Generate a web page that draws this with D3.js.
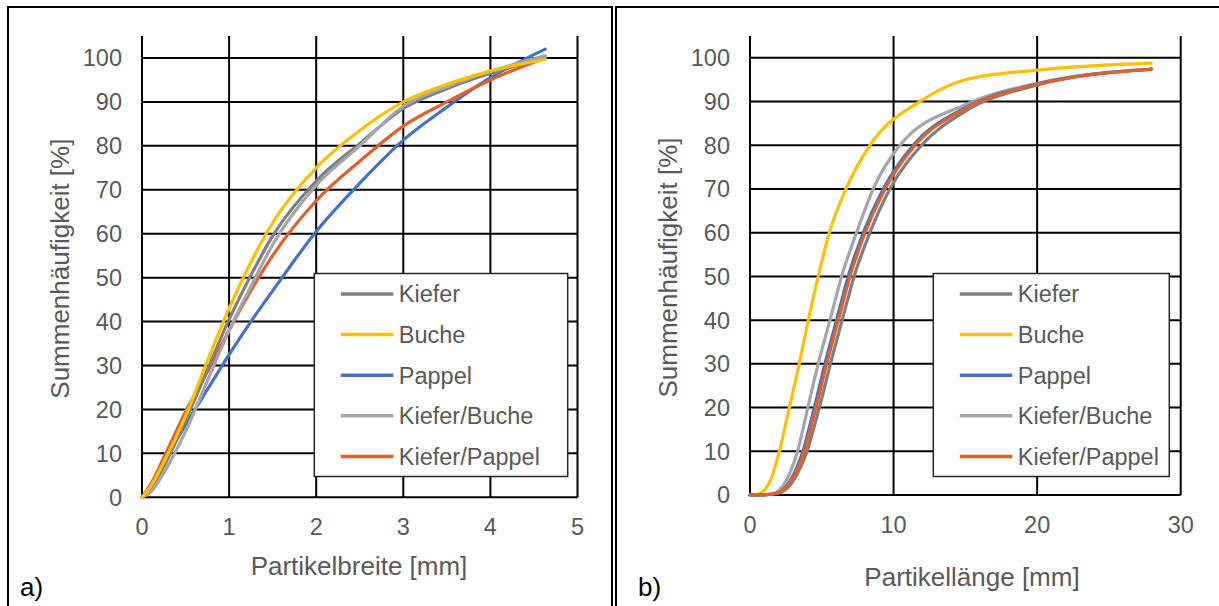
<!DOCTYPE html>
<html><head><meta charset="utf-8">
<script src="https://cdn.jsdelivr.net/npm/d3@7"></script>
<style>
html,body{margin:0;padding:0;background:#fff;}
svg{display:block;font-family:"Liberation Sans",Arial,sans-serif;}
</style></head>
<body>
<svg id="c" width="1219" height="606"></svg>
<script>
// ---- data ----
const seriesNames = ["Kiefer","Buche","Pappel","Kiefer/Buche","Kiefer/Pappel"];
const seriesColors = ["#7f7f7f","#ffc000","#4472c4","#a5a5ad","#e4602a"];
const yTicks = [0,10,20,30,40,50,60,70,80,90,100];

// Panel a) Partikelbreite
const xTicksA = [0,1,2,3,4,5];
const breiteX = [0,0.1,0.25,0.5,0.75,1,1.25,1.5,2,2.5,3,3.5,4,4.63];
const breiteKiefer      = [0,2,7,17.5,29,40.5,50.5,59.5,72,80.5,88.5,93,96.5,100];
const breiteBuche       = [0,2.5,8,18.5,31,43,53.5,62.5,75,83.5,90,94,97,99.7];
const breitePappel      = [0,2.5,8,16.5,24.5,32.5,40,47,60.5,71.5,81.3,88.8,95.5,102];
const breiteKieferBuche = [0,1.2,5.5,15,26.5,38,48,57.5,71,80,89,93.5,97,100.5];
const breiteKieferPappel= [0,3,9,19.5,28.5,38,47,55,67.5,76.5,84.5,90,95,100];

// Panel b) Partikellänge
const xTicksB = [0,10,20,30];
const laengeKieferX = [0,1,2,2.5,3,3.5,4,4.4,4.87,5.68,6.5,7.3,8.35,9.74,11.95,15,20,27.95];
const laengeKieferY = [0,0.05,0.4,1.3,3.2,6.2,10.3,14.8,20.5,31,41,50.5,60,70,80,87.8,93.8,97.4];
const laengeBucheX = [0,0.5,1,1.5,2.04,2.74,3.43,4.06,4.75,5.52,6.68,8.35,11.83,15,20,27.95];
const laengeBucheY = [0,0.15,1.1,3.9,10,20,30,40,50,60,70,80,90,95,97.2,98.8];
const laengePappelX = [0,0.93,1.86,2.32,2.78,3.25,3.71,4.08,4.52,5.22,6.03,6.84,7.89,9.28,11.37,15,20,27.95];
const laengePappelY = [0,0.05,0.4,1.3,3.2,6.2,10.3,14.8,20.5,30,40,50,60,70,80,88.6,94,97.4];
const laengeKieferBucheX = [0,0.83,1.67,2.09,2.5,2.92,3.34,3.67,4.06,4.75,5.57,6.38,7.42,8.58,10.44,15,20,27.95];
const laengeKieferBucheY = [0,0.05,0.4,1.3,3.2,6.2,10.3,14.8,20.5,30,40,50,60,70,80,89.3,94.2,97.5];
const laengeKieferPappelX = [0,0.95,1.91,2.38,2.86,3.34,3.81,4.19,4.64,5.34,6.15,6.96,8.01,9.4,11.5,15,20,27.95];
const laengeKieferPappelY = [0,0.05,0.4,1.3,3.2,6.2,10.3,14.8,20.5,30,40,50,60,70,80,88.4,93.9,97.4];

const zipXY = (xs, ys) => xs.map((x,i)=>[x, ys[i]]);
const panelA = {
  xDomain:[0,5], xTicks:xTicksA, xTitle:"Partikelbreite [mm]", tag:"a)",
  series:[zipXY(breiteX,breiteKiefer), zipXY(breiteX,breiteBuche), zipXY(breiteX,breitePappel),
          zipXY(breiteX,breiteKieferBuche), zipXY(breiteX,breiteKieferPappel)]
};
const panelB = {
  xDomain:[0,30], xTicks:xTicksB, xTitle:"Partikellänge [mm]", tag:"b)",
  series:[zipXY(laengeKieferX,laengeKieferY), zipXY(laengeBucheX,laengeBucheY), zipXY(laengePappelX,laengePappelY),
          zipXY(laengeKieferBucheX,laengeKieferBucheY), zipXY(laengeKieferPappelX,laengeKieferPappelY)]
};

const svg = d3.select("#c");
const TXT = "#595959";

// frame (table cell borders)
const frame = svg.append("g").attr("fill","none").attr("stroke","#000").attr("stroke-width",2);
frame.append("path").attr("d","M8,620 V7 H612 V620");
frame.append("path").attr("d","M616,620 V7 H1230");

function drawPanel(p, L){
  const x = d3.scaleLinear().domain(p.xDomain).range([L.x0, L.x1]);
  const y = d3.scaleLinear().domain([0,105]).range([L.y0, L.yTop]);
  const g = svg.append("g");

  g.append("g").selectAll("line").data(p.xTicks).join("line")
    .attr("x1",d=>x(d)).attr("x2",d=>x(d)).attr("y1",y(0)).attr("y2",y(105))
    .attr("stroke","#000").attr("stroke-width",2);
  g.append("g").selectAll("line").data(yTicks).join("line")
    .attr("x1",x(p.xDomain[0])).attr("x2",x(p.xDomain[1])).attr("y1",d=>y(d)).attr("y2",d=>y(d))
    .attr("stroke","#000").attr("stroke-width",2);

  g.append("g").selectAll("text").data(yTicks).join("text")
    .attr("x",x(p.xDomain[0])-20).attr("y",d=>y(d)).attr("dy","0.36em")
    .attr("text-anchor","end").attr("fill",TXT).attr("font-size",23.5).text(d=>d);
  g.append("g").selectAll("text").data(p.xTicks).join("text")
    .attr("x",d=>x(d)).attr("y",y(0)+L.xtDy)
    .attr("text-anchor","middle").attr("fill",TXT).attr("font-size",23.5).text(d=>d);

  g.append("text").attr("transform",`translate(${L.ytX},${(L.y0+L.yTop)/2+2}) rotate(-90)`)
    .attr("text-anchor","middle").attr("dy","0.36em").attr("fill",TXT).attr("font-size",26)
    .text("Summenhäufigkeit [%]");
  g.append("text").attr("x",L.xtX).attr("y",L.xtY).attr("text-anchor","middle")
    .attr("fill",TXT).attr("font-size",26).text(p.xTitle);
  g.append("text").attr("x",L.tagX).attr("y",596).attr("fill","#000").attr("font-size",26).text(p.tag);

  const line = d3.line().x(d=>x(d[0])).y(d=>y(d[1])).curve(d3.curveMonotoneX);
  const lg = g.append("g");
  L.order.forEach(i=>{
    lg.append("path").datum(p.series[i]).attr("d",line)
      .attr("fill","none").attr("stroke",seriesColors[i]).attr("stroke-width",3.2)
      .attr("stroke-linecap","round").attr("stroke-linejoin","round");
  });

  const leg = g.append("g");
  leg.append("rect").attr("x",L.lx).attr("y",273.5).attr("width",L.lw).attr("height",203)
    .attr("fill","#fff").attr("stroke","#262626").attr("stroke-width",1.5);
  seriesNames.forEach((n,i)=>{
    const yy = 294 + i*40.6;
    leg.append("line").attr("x1",L.lx+26.5).attr("x2",L.lx+79).attr("y1",yy).attr("y2",yy)
      .attr("stroke",seriesColors[i]).attr("stroke-width",3.5);
    leg.append("text").attr("x",L.lx+84.5).attr("y",yy).attr("dy","0.36em")
      .attr("fill",TXT).attr("font-size",23.5).text(n);
  });
}

drawPanel(panelA, {x0:142, x1:577.5, y0:497.3, yTop:36, xtDy:38, ytX:60, xtX:359, xtY:575, tagX:20,
                   lx:314.3, lw:253.4, order:[2,4,0,3,1]});
drawPanel(panelB, {x0:750, x1:1180.7, y0:495, yTop:36, xtDy:38, ytX:668, xtX:972, xtY:586, tagX:638,
                   lx:933.3, lw:236, order:[1,0,3,2,4]});
</script>
</body></html>
